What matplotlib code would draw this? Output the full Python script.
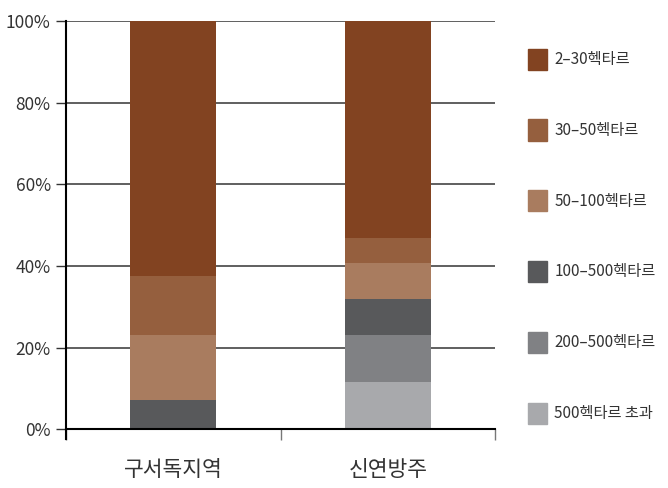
import numpy as np
import matplotlib.pyplot as plt
from matplotlib.patches import Patch

plt.rcParams['font.family'] = ['Noto Sans CJK KR', 'DejaVu Sans']

# regions and farm-size shares (%), stacked from the bottom
regions = ['구서독지역', '신연방주']
labels = ['500헥타르 초과', '200–500헥타르', '100–500헥타르', '50–100헥타르', '30–50헥타르', '2–30헥타르']
over500 = [0.0, 11.6]
ha200_500 = [0.0, 11.5]
ha100_500 = [7.2, 8.8]
ha50_100 = [15.9, 8.9]
ha30_50 = [14.4, 6.1]
ha2_30 = [62.5, 53.1]
colors = ['#a8a9ac', '#808184', '#58595b', '#a97c5f', '#955f3e', '#824321']

series = [over500, ha200_500, ha100_500, ha50_100, ha30_50, ha2_30]

fig = plt.figure(figsize=(6.68, 4.88), dpi=100)
ax = fig.add_axes([66/668, 1-429.3/488, (495-66)/668, (429.3-21)/488])

x = np.arange(len(regions))
bottom = np.zeros(len(regions))
for vals, c in zip(series, colors):
    ax.bar(x, vals, 0.4, bottom=bottom, color=c, zorder=3)
    bottom = bottom + np.array(vals)

ax.set_xlim(-0.5, 1.5)
ax.set_ylim(0, 100)
ax.set_yticks(np.arange(0, 101, 20))
ax.set_yticklabels([f'{v}%' for v in range(0, 101, 20)], fontsize=12.5, color='#333333')
ax.tick_params(axis='y', length=7, width=1, color='#333333', pad=4)
ax.grid(axis='y', color='#444444', lw=1.2, zorder=1)

ax.set_xticks([-0.5, 0.5, 1.5])
ax.set_xticklabels([])
ax.tick_params(axis='x', length=8, width=1, color='#777777')
for xi, r in zip(x, regions):
    ax.text(xi, -0.1, r, transform=ax.get_xaxis_transform(), ha='center', va='center',
            fontsize=15.5, color='#333333')

for s in ['top', 'right', 'left']:
    ax.spines[s].set_visible(False)
ax.spines['bottom'].set_color('black')
ax.spines['bottom'].set_linewidth(1.5)
ax.spines['bottom'].set_zorder(4)
ax.axvline(-0.5, ymin=-0.024, ymax=1, color='black', lw=1.5, clip_on=False, zorder=4)

# legend on the right, top entry first
handles = [Patch(color=c) for c in colors[::-1]]
leg = fig.legend(handles, labels[::-1], loc='upper left', bbox_to_anchor=(520/668, 1-41/488),
                 frameon=False, fontsize=11, handlelength=1.25, handleheight=1.75,
                 handletextpad=0.5, labelspacing=3.25, borderpad=0)
for t in leg.get_texts():
    t.set_color('#333333')

fig.savefig('out.png', dpi=100)
